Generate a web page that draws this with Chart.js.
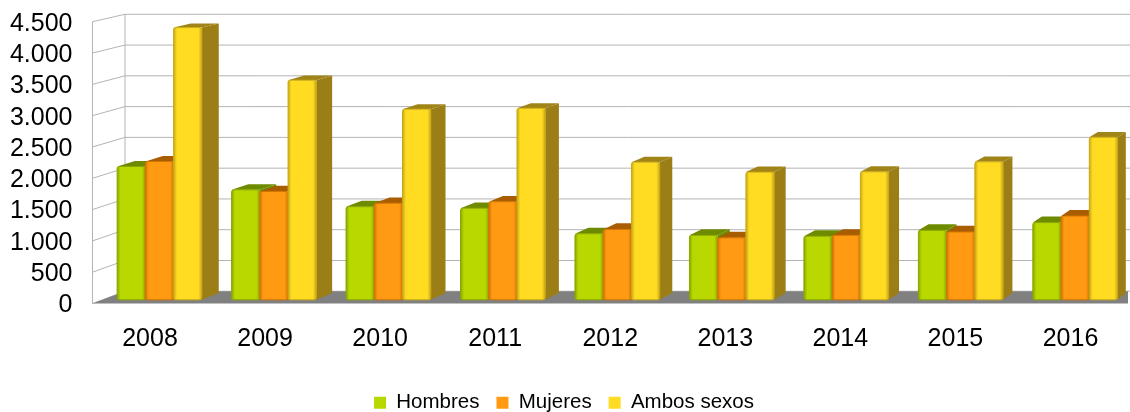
<!DOCTYPE html>
<html>
<head>
<meta charset="utf-8">
<style>
  html, body { margin: 0; padding: 0; background: #fff; }
</style>
<script src="https://cdn.jsdelivr.net/npm/chart.js@4.4.1/dist/chart.umd.min.js"></script>
</head>
<body>
<canvas id="chart" width="1130" height="412"></canvas>
<script>
const years = ["2008", "2009", "2010", "2011", "2012", "2013", "2014", "2015", "2016"];
const hombres = [2140, 1765, 1495, 1470, 1060, 1035, 1020, 1115, 1240];
const mujeres = [2220, 1740, 1550, 1575, 1130, 995, 1035, 1090, 1345];
const ambos = [4370, 3525, 3060, 3075, 2210, 2050, 2055, 2215, 2610];
const seriesNames = ["Hombres", "Mujeres", "Ambos sexos"];

const palette = [
  { front: "#b8d800", edge: "#8aa600", top: "#6e8b00", side: "#6e8b00" },
  { front: "#ff9a12", edge: "#d47400", top: "#a85d00", side: "#a85d00" },
  { front: "#ffdb22", edge: "#c9a915", top: "#a08418", side: "#9c7e17" },
];

const FONT = "'Liberation Sans', Arial, sans-serif";
const WALL_DX = 32.5;          // depth of the side wall in px at the left edge
const VP_DX = 860, VP_DY = -432; // vanishing point, relative to right/top of plot
const T_FRONT = 0.3, T_BACK = 0.85;

function fmt(v) {
  return String(v).replace(/\B(?=(\d{3})+(?!\d))/g, ".");
}

const box3d = {
  id: "box3d",
  beforeDatasetsDraw(chart) {
    const { ctx, chartArea: a, scales } = chart;
    const ys = scales.y;
    const vx = a.right + VP_DX, vy = a.top + VP_DY;
    const k = WALL_DX / (vx - a.left);
    const P = (px, py, t) => [px + t * k * (vx - px), py + t * k * (vy - py)];
    const poly = (pts, fill) => {
      ctx.beginPath();
      ctx.moveTo(pts[0][0], pts[0][1]);
      for (let i = 1; i < pts.length; i++) ctx.lineTo(pts[i][0], pts[i][1]);
      ctx.closePath();
      ctx.fillStyle = fill;
      ctx.fill();
    };

    ctx.save();
    // walls
    ctx.strokeStyle = "#b3b3b3";
    ctx.lineWidth = 1;
    ys.ticks.forEach((tk) => {
      const fy = ys.getPixelForValue(tk.value);
      const b = P(a.left, fy, 1);
      ctx.beginPath();
      ctx.moveTo(a.left, fy);
      ctx.lineTo(b[0], b[1]);
      ctx.lineTo(chart.width, b[1]);
      ctx.stroke();
    });
    const topF = ys.getPixelForValue(ys.max);
    const botF = ys.getPixelForValue(0);
    const bt = P(a.left, topF, 1), bb = P(a.left, botF, 1);
    ctx.beginPath();
    ctx.moveTo(a.left, topF);
    ctx.lineTo(a.left, botF);
    ctx.moveTo(bt[0], bt[1]);
    ctx.lineTo(bb[0], bb[1]);
    ctx.stroke();

    // floor
    ctx.save();
    ctx.beginPath();
    ctx.rect(0, 0, a.right, chart.height);
    ctx.clip();
    poly([P(a.left, botF, 0), P(a.right + 20, botF, 0), P(a.right + 20, botF, 1), P(a.left, botF, 1)], "#808080");
    ctx.restore();

    // bars
    const n = chart.data.labels.length;
    for (let i = 0; i < n; i++) {
      chart.data.datasets.forEach((ds, d) => {
        const el = chart.getDatasetMeta(d).data[i];
        const { x, y, base, width } = el.getProps(["x", "y", "base", "width"], true);
        const c = palette[d];
        const xl = x - width / 2, xr = x + width / 2;
        poly([P(xr, y, T_FRONT), P(xr, y, T_BACK), P(xr, base, T_BACK), P(xr, base, T_FRONT)], c.side);
        poly([P(xl, y, T_FRONT), P(xr, y, T_FRONT), P(xr, y, T_BACK), P(xl, y, T_BACK)], c.top);
        const f0 = P(xl, y, T_FRONT), f1 = P(xr, base, T_FRONT);
        const g = ctx.createLinearGradient(f0[0], 0, f1[0], 0);
        g.addColorStop(0, c.edge);
        g.addColorStop(0.12, c.front);
        g.addColorStop(0.88, c.front);
        g.addColorStop(1, c.edge);
        ctx.beginPath();
        ctx.roundRect(f0[0], f0[1], f1[0] - f0[0], f1[1] - f0[1], 2);
        ctx.fillStyle = g;
        ctx.fill();
        ctx.strokeStyle = c.edge;
        ctx.lineWidth = 1;
        ctx.stroke();
      });
    }
    ctx.restore();
    return false;
  },
};

new Chart(document.getElementById("chart"), {
  type: "bar",
  data: {
    labels: years,
    datasets: [hombres, mujeres, ambos].map((vals, d) => ({
      label: seriesNames[d],
      data: vals,
      backgroundColor: palette[d].front,
      borderWidth: 0,
      barPercentage: 1,
      categoryPercentage: 0.74,
    })),
  },
  options: {
    responsive: false,
    animation: false,
    layout: { padding: { top: 21.7, right: 2, left: 0, bottom: -11 } },
    plugins: {
      tooltip: { enabled: false },
      legend: {
        position: "bottom",
        labels: {
          font: { family: FONT, size: 20.5 },
          color: "#000",
          boxWidth: 12,
          boxHeight: 12,
          padding: 17,
        },
      },
    },
    scales: {
      x: {
        grid: { display: false, drawTicks: false },
        border: { display: false },
        ticks: { font: { family: FONT, size: 25 }, color: "#000", padding: 21 },
        afterFit(s) { s.height = 72; },
      },
      y: {
        min: 0,
        max: 4500,
        grid: { display: false, drawTicks: false },
        border: { display: false },
        ticks: {
          stepSize: 500,
          autoSkip: false,
          maxTicksLimit: 20,
          labelOffset: 2,
          font: { family: FONT, size: 25 },
          color: "#000",
          padding: 20,
          callback: (v) => fmt(v),
        },
        afterFit(s) {
          s.width = 92.5;
          s.paddingTop = 0;
          s.paddingBottom = 0;
        },
      },
    },
  },
  plugins: [box3d],
});
</script>
</body>
</html>
